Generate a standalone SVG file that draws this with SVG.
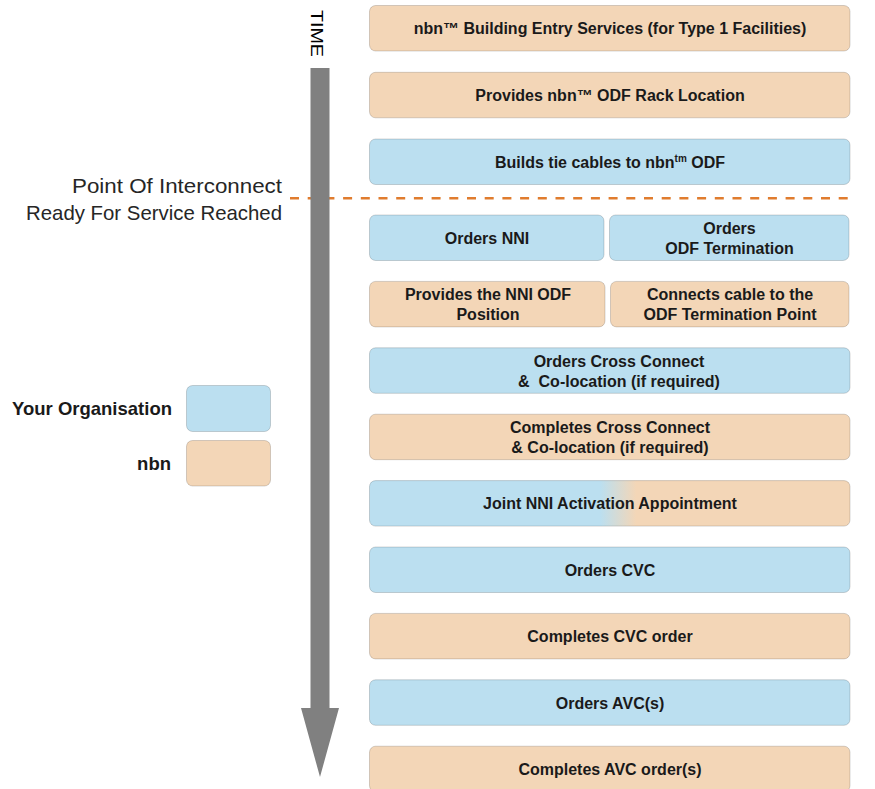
<svg xmlns="http://www.w3.org/2000/svg" width="875" height="789" viewBox="0 0 875 789">
<style>
.b{fill:#BBDFF0;stroke:#000;stroke-opacity:0.16;stroke-width:1}
.p{fill:#F3D6B7;stroke:#000;stroke-opacity:0.16;stroke-width:1}
.g{fill:url(#mix);stroke:#000;stroke-opacity:0.16;stroke-width:1}
.t{font-family:"Liberation Sans",Arial,sans-serif;font-weight:bold;font-size:16px;fill:#1a1a1a;text-anchor:middle}
.l{font-family:"Liberation Sans",Arial,sans-serif;font-size:21px;fill:#262626;text-anchor:end}
.lg{font-family:"Liberation Sans",Arial,sans-serif;font-weight:bold;font-size:18.5px;fill:#1a1a1a;text-anchor:end}
</style>
<defs>
<linearGradient id="mix" x1="0" y1="0" x2="1" y2="0">
<stop offset="0.48" stop-color="#BBDFF0"/>
<stop offset="0.555" stop-color="#F3D6B7"/>
</linearGradient>
</defs>
<rect width="875" height="789" fill="#fff"/>

<g id="connectors">
<line x1="290" y1="198.3" x2="850" y2="198.3" stroke="#E07C2E" stroke-width="2.5" stroke-dasharray="9 8.7"/>
<polygon id="time-arrow" points="310.5,68 329.5,68 329.5,708 339,708 320,777 301,708 310.5,708" fill="#808080"/>
<text transform="translate(310.7,33.5) rotate(90)" x="0" y="0" font-family="Liberation Sans,Arial,sans-serif" font-size="17" fill="#000" text-anchor="middle" textLength="47" lengthAdjust="spacingAndGlyphs">TIME</text>
</g>

<g id="poi-label">
<text class="l" x="282" y="193" textLength="210" lengthAdjust="spacingAndGlyphs">Point Of Interconnect</text>
<text class="l" x="282" y="220" textLength="256" lengthAdjust="spacingAndGlyphs">Ready For Service Reached</text>
</g>

<g id="legend-org">
<text class="lg" x="172" y="415">Your Organisation</text>
<rect class="b" x="186.5" y="385.5" width="84" height="46" rx="6"/>
</g>
<g id="legend-nbn">
<text class="lg" x="171" y="469.5">nbn</text>
<rect class="p" x="186.5" y="440.5" width="84" height="45.5" rx="6"/>
</g>

<g id="n1">
<rect class="p" x="369.5" y="5.5" width="480.5" height="45.5" rx="6"/>
<text class="t" x="610" y="34">nbn™ Building Entry Services (for Type 1 Facilities)</text>
</g>
<g id="n2">
<rect class="p" x="369.5" y="72.3" width="480.5" height="45.5" rx="6"/>
<text class="t" x="610" y="101">Provides nbn™ ODF Rack Location</text>
</g>
<g id="n3">
<rect class="b" x="369.5" y="139" width="480.5" height="45.5" rx="6"/>
<text class="t" x="610" y="167.5">Builds tie cables to nbn<tspan font-size="10" dy="-6">tm</tspan><tspan dy="6"> ODF</tspan></text>
</g>
<g id="n4a">
<rect class="b" x="369.5" y="215" width="234.5" height="45.5" rx="6"/>
<text class="t" x="487" y="243.5">Orders NNI</text>
</g>
<g id="n4b">
<rect class="b" x="609.5" y="215" width="239.5" height="45.5" rx="6"/>
<text class="t" x="729.5" y="233.5">Orders</text>
<text class="t" x="729.5" y="253.5">ODF Termination</text>
</g>
<g id="n5a">
<rect class="p" x="369.5" y="281.4" width="235.5" height="45.5" rx="6"/>
<text class="t" x="488" y="300">Provides the NNI ODF</text>
<text class="t" x="488" y="320">Position</text>
</g>
<g id="n5b">
<rect class="p" x="610.5" y="281.4" width="238.5" height="45.5" rx="6"/>
<text class="t" x="730" y="300">Connects cable to the</text>
<text class="t" x="730" y="320">ODF Termination Point</text>
</g>
<g id="n6">
<rect class="b" x="369.5" y="347.8" width="480.5" height="45.5" rx="6"/>
<text class="t" x="619" y="366.5">Orders Cross Connect</text>
<text class="t" x="619" y="386.5" xml:space="preserve">&amp;  Co-location (if required)</text>
</g>
<g id="n7">
<rect class="p" x="369.5" y="414.2" width="480.5" height="45.5" rx="6"/>
<text class="t" x="610" y="433">Completes Cross Connect</text>
<text class="t" x="610" y="453">&amp; Co-location (if required)</text>
</g>
<g id="n8">
<rect class="g" x="369.5" y="480.6" width="480.5" height="45.5" rx="6"/>
<text class="t" x="610" y="509">Joint NNI Activation Appointment</text>
</g>
<g id="n9">
<rect class="b" x="369.5" y="547" width="480.5" height="45.5" rx="6"/>
<text class="t" x="610" y="575.5">Orders CVC</text>
</g>
<g id="n10">
<rect class="p" x="369.5" y="613.4" width="480.5" height="45.5" rx="6"/>
<text class="t" x="610" y="642">Completes CVC order</text>
</g>
<g id="n11">
<rect class="b" x="369.5" y="679.8" width="480.5" height="45.5" rx="6"/>
<text class="t" x="610" y="708.5">Orders AVC(s)</text>
</g>
<g id="n12">
<rect class="p" x="369.5" y="746.2" width="480.5" height="45.5" rx="6"/>
<text class="t" x="610" y="775">Completes AVC order(s)</text>
</g>
</svg>
